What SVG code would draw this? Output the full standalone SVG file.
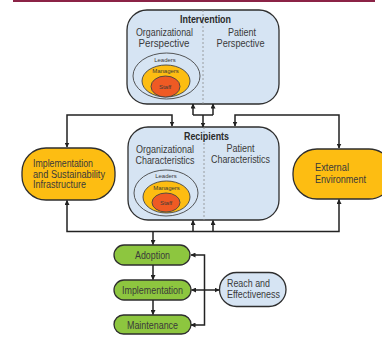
<svg xmlns="http://www.w3.org/2000/svg" width="382" height="343" viewBox="0 0 382 343">
<defs>
<marker id="ah" viewBox="0 0 10 10" refX="9" refY="5" markerWidth="5" markerHeight="5" markerUnits="userSpaceOnUse" orient="auto-start-reverse">
<path d="M0,0 L10,5 L0,10 z" fill="#222"/>
</marker>
</defs>
<style>
.box{fill:#d6e4f3;stroke:#2e2e2e;stroke-width:1.3}
.yel{fill:#fdbd12;stroke:#2e2e2e;stroke-width:1.3}
.grn{fill:#8dc63f;stroke:#2e2e2e;stroke-width:1.3}
.div{stroke:#8a8a8a;stroke-width:0.8;stroke-dasharray:2,2;fill:none}
.e1{fill:none;stroke:#444;stroke-width:0.9}
.e2{fill:#fdbd12;stroke:#444;stroke-width:0.9}
.e3{fill:#ef5a24;stroke:#444;stroke-width:0.9}
.t{font-family:"Liberation Sans",Arial,sans-serif;fill:#3a3a3a;font-size:10.5px}
.b{font-family:"Liberation Sans",Arial,sans-serif;fill:#2a2a2a;font-size:10.5px;font-weight:bold}
.s{font-family:"Liberation Sans",Arial,sans-serif;fill:#3a3a3a;font-size:6px}
.c{text-anchor:middle}
.ln{fill:none;stroke:#222;stroke-width:1.5}
</style>
<line x1="13" y1="1" x2="375" y2="1" stroke="#8b2346" stroke-width="2"/>

<g id="intervention">
<rect class="box" x="127" y="10" width="152" height="94" rx="20"/>
<line class="div" x1="203" y1="10" x2="203" y2="104"/>
<text class="b c" x="205.5" y="22.5" textLength="51" lengthAdjust="spacingAndGlyphs">Intervention</text>
<text class="t c" x="164.5" y="36.3" textLength="57" lengthAdjust="spacingAndGlyphs">Organizational</text>
<text class="t c" x="164" y="47" textLength="51" lengthAdjust="spacingAndGlyphs">Perspective</text>
<text class="t c" x="242" y="36.3" textLength="28" lengthAdjust="spacingAndGlyphs">Patient</text>
<text class="t c" x="240.5" y="47" textLength="48" lengthAdjust="spacingAndGlyphs">Perspective</text>
<ellipse class="e1" cx="166.5" cy="76" rx="33.5" ry="23"/>
<ellipse class="e2" cx="166" cy="81" rx="24" ry="16"/>
<ellipse class="e3" cx="165.5" cy="86.5" rx="14.5" ry="10.5"/>
<text class="s c" x="165" y="62">Leaders</text>
<text class="s c" x="165.5" y="73">Managers</text>
<text class="s c" x="165" y="89">Staff</text>
</g>

<g id="recipients">
<rect class="box" x="128" y="127" width="151" height="93" rx="20"/>
<line class="div" x1="204" y1="127" x2="204" y2="220"/>
<text class="b c" x="206.5" y="139.5" textLength="45" lengthAdjust="spacingAndGlyphs">Recipients</text>
<text class="t c" x="165" y="153.3" textLength="58" lengthAdjust="spacingAndGlyphs">Organizational</text>
<text class="t c" x="165" y="164" textLength="59" lengthAdjust="spacingAndGlyphs">Characteristics</text>
<text class="t c" x="240.5" y="151.7" textLength="28" lengthAdjust="spacingAndGlyphs">Patient</text>
<text class="t c" x="240.5" y="162.7" textLength="59" lengthAdjust="spacingAndGlyphs">Characteristics</text>
<ellipse class="e1" cx="166" cy="193" rx="32" ry="23"/>
<ellipse class="e2" cx="166.5" cy="197" rx="23.5" ry="16"/>
<ellipse class="e3" cx="166" cy="202.5" rx="14" ry="9.5"/>
<text class="s c" x="166" y="178">Leaders</text>
<text class="s c" x="166.5" y="190">Managers</text>
<text class="s c" x="166" y="205">Staff</text>
</g>

<g id="infrastructure">
<rect class="yel" x="22" y="148" width="93" height="52" rx="24"/>
<text class="t" x="33" y="167" textLength="60" lengthAdjust="spacingAndGlyphs">Implementation</text>
<text class="t" x="33" y="177.5" textLength="72" lengthAdjust="spacingAndGlyphs">and Sustainability</text>
<text class="t" x="33" y="188" textLength="53" lengthAdjust="spacingAndGlyphs">Infrastructure</text>
</g>

<g id="external">
<rect class="yel" x="293" y="149" width="100" height="50" rx="24"/>
<text class="t" x="315" y="171" textLength="34" lengthAdjust="spacingAndGlyphs">External</text>
<text class="t" x="315" y="183" textLength="51" lengthAdjust="spacingAndGlyphs">Environment</text>
</g>

<g id="adoption">
<rect class="grn" x="114" y="245" width="76" height="20" rx="10"/>
<text class="t c" x="152.5" y="259" textLength="35" lengthAdjust="spacingAndGlyphs">Adoption</text>
</g>
<g id="implementation">
<rect class="grn" x="114" y="280" width="77" height="20" rx="10"/>
<text class="t c" x="152.5" y="294" textLength="61" lengthAdjust="spacingAndGlyphs">Implementation</text>
</g>
<g id="maintenance">
<rect class="grn" x="114" y="315" width="77" height="19" rx="9.5"/>
<text class="t c" x="152.5" y="328.5" textLength="51" lengthAdjust="spacingAndGlyphs">Maintenance</text>
</g>
<g id="reach">
<rect x="219.5" y="272.5" width="66.5" height="34" rx="17" fill="#d6e4f3" stroke="#2e2e2e" stroke-width="1.3"/>
<text class="t" x="227" y="287" textLength="43" lengthAdjust="spacingAndGlyphs">Reach and</text>
<text class="t" x="227" y="298" textLength="53" lengthAdjust="spacingAndGlyphs">Effectiveness</text>
</g>

<g id="connectors">
<path class="ln" d="M193,115 H213"/>
<path class="ln" d="M193,115 V104" marker-end="url(#ah)"/>
<path class="ln" d="M213,115 V104" marker-end="url(#ah)"/>
<path class="ln" d="M203,115 V127" marker-end="url(#ah)"/>
<path class="ln" d="M172,126 V115 H67 V147" marker-start="url(#ah)" marker-end="url(#ah)"/>
<path class="ln" d="M235,126 V115 H339 V148" marker-start="url(#ah)" marker-end="url(#ah)"/>
<path class="ln" d="M67,200.5 V231.5 H339 V199.5" marker-start="url(#ah)" marker-end="url(#ah)"/>
<path class="ln" d="M193,231.5 V220.5" marker-end="url(#ah)"/>
<path class="ln" d="M213,231.5 V220.5" marker-end="url(#ah)"/>
<path class="ln" d="M153,231.5 V244.5" marker-end="url(#ah)"/>
<path class="ln" d="M153,265 V279.5" marker-end="url(#ah)"/>
<path class="ln" d="M153,300 V314.5" marker-end="url(#ah)"/>
<path class="ln" d="M191,255 H204.5 V325 H191" marker-start="url(#ah)" marker-end="url(#ah)"/>
<path class="ln" d="M191.5,290 H219" marker-start="url(#ah)" marker-end="url(#ah)"/>
</g>
</svg>
